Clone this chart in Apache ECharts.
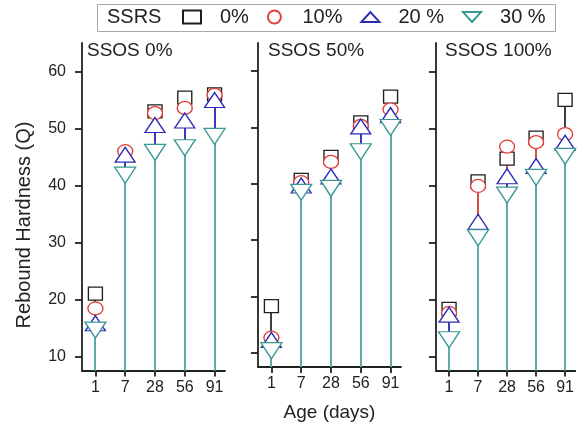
<!DOCTYPE html>
<html><head><meta charset="utf-8">
<script src="https://cdn.jsdelivr.net/npm/echarts@6/dist/echarts.min.js"></script>
<style>html,body{margin:0;padding:0;background:#fff}#c{width:577px;height:427px}</style>
</head><body><div id="c"></div>
<script>
// ---- data ----
const ages = ['1', '7', '28', '56', '91'];
const panelTitles = ['SSOS 0%', 'SSOS 50%', 'SSOS 100%'];
const levels = ['0%', '10%', '20 %', '30 %'];
const yTicks = [10, 20, 30, 40, 50, 60];

// SSOS 0%
const ssos0_ssrs0  = [21.0, null, 53.0, 55.4, 56.0];
const ssos0_ssrs10 = [18.4, 46.0, 52.7, 53.6, 55.9];
const ssos0_ssrs20 = [15.8, 45.4, 50.6, 51.4, 55.0];
const ssos0_ssrs30 = [14.6, 41.8, 45.8, 46.6, 48.6];
// SSOS 50%
const ssos50_ssrs0  = [18.3, 40.7, 44.8, 50.9, 55.5];
const ssos50_ssrs10 = [12.7, 40.3, 43.9, 50.3, 53.2];
const ssos50_ssrs20 = [12.3, 39.7, 41.3, 50.2, 52.2];
const ssos50_ssrs30 = [10.4, 38.5, 39.2, 45.7, 50.0];
// SSOS 100%
const ssos100_ssrs0  = [18.3, 40.7, 44.7, 48.4, 55.0];
const ssos100_ssrs10 = [17.6, 39.9, 46.8, 47.6, 49.0];
const ssos100_ssrs20 = [17.3, 33.6, 41.6, 43.4, 47.5];
const ssos100_ssrs30 = [12.9, 30.8, 38.3, 41.4, 45.1];

const panels = [
  [ssos0_ssrs0, ssos0_ssrs10, ssos0_ssrs20, ssos0_ssrs30],
  [ssos50_ssrs0, ssos50_ssrs10, ssos50_ssrs20, ssos50_ssrs30],
  [ssos100_ssrs0, ssos100_ssrs10, ssos100_ssrs20, ssos100_ssrs30]
];

// ---- styles ----
const FONT = '"Liberation Sans", Arial, sans-serif';
const TXT = '#222';
const markerColors = ['#1e1e1e', '#e0403c', '#2a2ab4', '#3a9894'];
const lineColors = ['#404040', '#d84a48', '#3a3ab4', '#62aaa7'];
const symbols = ['rect', 'circle', 'triangle', 'triangle'];
const symbolRot = [0, 0, 0, 180];
const symbolSizes = [[14, 13], [15, 13], [20, 15], [21, 16]];
const Y_MIN = 7.5, Y_MAX = 65;
const X_MIN = 0.55, X_MAX = 5.35;
const lefts = [82, 258, 436];
const GW = 143, GT = 43, GH = 327.5;
const xPos = ages.map((_, i) => i + 1);

const grids = [], xAxes = [], yAxes = [], series = [], titles = [];
const axisLineStyle = { color: TXT, width: 1.8 };

lefts.forEach((l, p) => {
  grids.push({ left: l, top: GT, width: GW, height: GH, containLabel: false });
  xAxes.push({
    type: 'value', gridIndex: p, min: X_MIN, max: X_MAX,
    axisLine: { show: true, onZero: false, lineStyle: axisLineStyle },
    axisTick: { show: true, customValues: xPos, length: 6, inside: false, lineStyle: axisLineStyle },
    axisLabel: { customValues: xPos, formatter: v => ages[Math.round(v) - 1], fontSize: 16, color: TXT, fontFamily: FONT, margin: 9 },
    splitLine: { show: false },
    name: p === 1 ? 'Age (days)' : '', nameLocation: 'middle', nameGap: 36,
    nameTextStyle: { fontSize: 19, color: TXT, fontFamily: FONT }
  });
  yAxes.push({
    type: 'value', gridIndex: p, min: Y_MIN, max: Y_MAX,
    axisLine: { show: true, onZero: false, lineStyle: axisLineStyle },
    axisTick: { show: true, customValues: yTicks, length: 7, lineStyle: axisLineStyle },
    axisLabel: { show: p === 0, customValues: yTicks, fontSize: 16, color: TXT, fontFamily: FONT, margin: 16 },
    splitLine: { show: false }
  });
  titles.push({
    text: panelTitles[p], left: l + (p === 0 ? 5 : p === 1 ? 10 : 9), top: 41, padding: 0,
    textStyle: { fontSize: 19, fontWeight: 'normal', color: TXT, fontFamily: FONT, lineHeight: 20 }
  });

  panels[p].forEach((vals, s) => {
    const pts = [];
    vals.forEach((v, i) => { if (v !== null) pts.push([xPos[i], v]); });
    series.push({
      type: 'custom', name: 'drop ' + levels[s], xAxisIndex: p, yAxisIndex: p,
      data: pts, encode: { x: 0, y: 1 }, silent: true,
      renderItem: (params, api) => {
        const top = api.coord([api.value(0), api.value(1)]);
        const bot = api.coord([api.value(0), Y_MIN]);
        const x = Math.round(top[0]);
        return { type: 'line', shape: { x1: x, y1: top[1], x2: x, y2: bot[1] },
                 style: { stroke: lineColors[s], lineWidth: 2 } };
      }
    });
    series.push({
      type: 'scatter', name: levels[s], xAxisIndex: p, yAxisIndex: p,
      data: pts, symbol: symbols[s], symbolRotate: symbolRot[s], symbolSize: symbolSizes[s],
      itemStyle: { color: '#ffffff', borderColor: markerColors[s], borderWidth: 1.3, opacity: 1 },
      emphasis: { disabled: true }
    });
  });
});

const option = {
  animation: false,
  backgroundColor: '#ffffff',
  title: titles,
  legend: {
    data: [
      { name: '0%', icon: 'rect' },
      { name: '10%', icon: 'circle' },
      { name: '20 %', icon: 'path://M11,0L22,12L0,12Z' },
      { name: '30 %', icon: 'path://M0,0L22,0L11,12Z' }
    ],
    symbolRotate: 0,
    symbolKeepAspect: true,
    left: 182, top: 6, padding: 0,
    itemWidth: 18, itemHeight: 13, itemGap: 18,
    selectedMode: false,
    textStyle: { fontSize: 20, color: TXT, fontFamily: FONT, lineHeight: 22, padding: [0, 0, 0, 14] }
  },
  grid: grids,
  xAxis: xAxes,
  yAxis: yAxes,
  graphic: [
    { type: 'rect', left: 95, top: 2, shape: { width: 458, height: 27 },
      style: { fill: 'none', stroke: '#a8a8a8', lineWidth: 1 }, z: 0 },
    { type: 'text', x: 107, y: 17, style: { text: 'SSRS', fontSize: 20, fill: TXT, fontFamily: FONT, verticalAlign: 'middle' } },
    { type: 'text', x: 24, y: 225, rotation: Math.PI / 2,
      style: { text: 'Rebound Hardness (Q)', fontSize: 20, fill: TXT, fontFamily: FONT, align: 'center', verticalAlign: 'middle' } }
  ],
  series: series
};

const chart = echarts.init(document.getElementById('c'), null, { renderer: 'canvas' });
chart.setOption(option);
</script>
</body></html>
